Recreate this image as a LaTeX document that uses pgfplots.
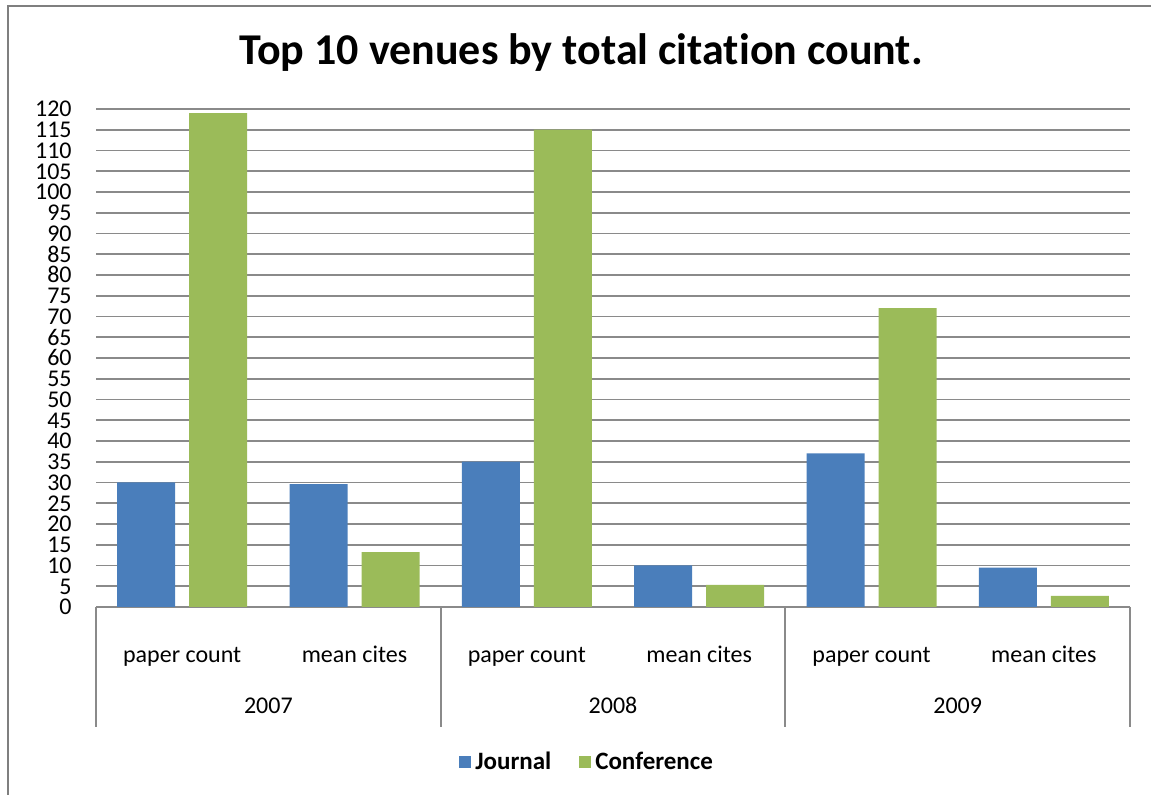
\documentclass[border=0pt]{standalone}
\usepackage{fontspec}
\setmainfont{Carlito}[Ligatures={NoCommon}]
\usepackage{pgfplots}
\pgfplotsset{compat=1.18}
\definecolor{jblue}{HTML}{4A7EBB}
\definecolor{cgreen}{HTML}{9BBB59}
\definecolor{gridgray}{HTML}{8A8A8A}
\definecolor{framegray}{HTML}{7F7F7F}
\begin{document}
\begin{tikzpicture}
\useasboundingbox (0,0) rectangle (575.5pt,397.5pt);
\draw[framegray, line width=1pt] (4pt,0) -- (4pt,394.5pt) -- (575.5pt,394.5pt);
\node[font=\fontsize{22}{26}\selectfont\bfseries, anchor=base] at (290.5pt,365pt) {Top 10 venues by total citation count.};
\begin{axis}[
    at={(48pt,94pt)}, anchor=south west,
    scale only axis, width=517pt, height=249pt,
    ybar=7pt, bar width=29pt,
    xmin=-0.5, xmax=5.5, ymin=0, ymax=120,
    ytick={0,5,...,120},
    xtick={0,...,5},
    xticklabels={paper count, mean cites, paper count, mean cites, paper count, mean cites},
    ymajorgrids, grid style={gridgray, line width=0.85pt},
    axis line style={draw=none},
    tick style={draw=none},
    tick label style={font=\fontsize{12}{12}\selectfont},
    /pgf/number format/assume math mode=true,
    yticklabel style={anchor=east, inner sep=0pt, xshift=-12pt, text height=8pt, text depth=0pt},
    xticklabel style={anchor=base, inner sep=0pt, yshift=-23.5pt},
    legend columns=2,
    legend style={draw=none, at={(0.476,-0.311)}, anchor=center,
        font=\fontsize{12.5}{12.5}\selectfont\bfseries,
        /tikz/every even column/.append style={column sep=12pt}},
    legend image code/.code={\fill[#1] (0pt,-3pt) rectangle (6pt,3pt);},
    clip=false,
]
\addplot[fill=jblue, draw=none] coordinates {(0,30) (1,29.6) (2,35) (3,10) (4,37) (5,9.5)};
\addplot[fill=cgreen, draw=none] coordinates {(0,119) (1,13.2) (2,115) (3,5.3) (4,72) (5,2.7)};
\legend{Journal, Conference}
% category box below the axis
\draw[gridgray, line width=0.85pt] (axis cs:-0.5,0) -- ([yshift=-60pt]axis cs:-0.5,0);
\draw[gridgray, line width=0.85pt] (axis cs:1.5,0) -- ([yshift=-60pt]axis cs:1.5,0);
\draw[gridgray, line width=0.85pt] (axis cs:3.5,0) -- ([yshift=-60pt]axis cs:3.5,0);
\draw[gridgray, line width=0.85pt] (axis cs:5.5,0) -- ([yshift=-60pt]axis cs:5.5,0);
\node[font=\fontsize{12}{12}\selectfont, anchor=base, yshift=-53.5pt] at (axis cs:0.5,0) {2007};
\node[font=\fontsize{12}{12}\selectfont, anchor=base, yshift=-53.5pt] at (axis cs:2.5,0) {2008};
\node[font=\fontsize{12}{12}\selectfont, anchor=base, yshift=-53.5pt] at (axis cs:4.5,0) {2009};
\end{axis}
\end{tikzpicture}
\end{document}
